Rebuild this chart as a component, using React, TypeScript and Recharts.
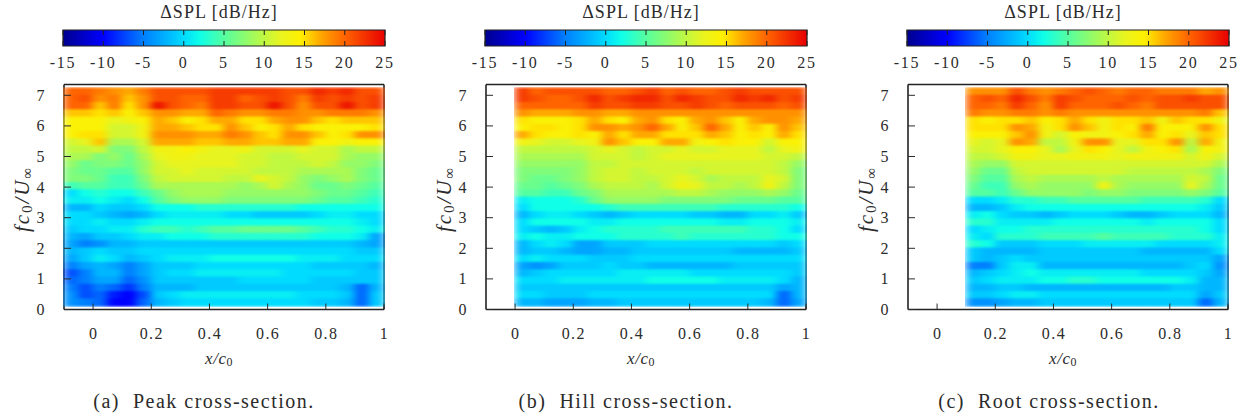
import { ScatterChart, Scatter, XAxis, YAxis, ReferenceArea } from "recharts";

const FONT = '"Liberation Serif", serif';
const INK = "#2b2b2b";

const xTicks = [0, 0.2, 0.4, 0.6, 0.8, 1];
const yTicks = [0, 1, 2, 3, 4, 5, 6, 7];
const colorTicks = [-15, -10, -5, 0, 5, 10, 15, 20, 25];

// level (dB/Hz) -> colour
const palette: [number, string][] = [
  [-15, "#00008f"], [-10, "#0000ff"], [-5, "#0080ff"], [0, "#00dcff"], [2, "#10ffe8"],
  [5, "#55ffa0"], [10, "#c0f840"], [12, "#e8f420"], [14.5, "#fff000"], [17, "#ffa800"], [20, "#ff6400"], [25, "#e80000"],
];

// rows run from the top of the plot (f = 7.24) down to f = 0.11, columns every 0.05 x/c0
const peakRows = [
  [20,20,19,18,17,19,21,21,21,21,22,22,22,22,22,21,21,23,22,23,21,21],
  [20,21,18,19,16,18,21,21,20,20,22,22,20,21,22,21,19,22,21,22,21,22],
  [20,20,16,19,15,18,24,21,20,19,22,22,21,21,24,21,18,21,21,24,21,22],
  [16,16,15,16,14,16,18,18,17,17,20,19,18,18,19,19,18,18,19,19,19,18],
  [14,14,14,12,13,14,17,16,14,15,17,17,15,15,17,18,18,16,15,16,16,16],
  [14,14,14,11,11,13,17,17,16,15,15,18,16,14,15,17,15,14,14,14,14,15],
  [14,15,15,11,11,13,18,18,18,17,17,19,18,16,15,18,18,16,14,15,18,18],
  [11,12,16,9,9,11,17,17,17,16,16,17,17,16,16,17,17,14,14,13,14,14],
  [10,10,11,7,7,10,13,13,14,13,12,12,13,11,11,11,12,11,11,9,10,10],
  [9,9,7,8,6,9,12,13,13,12,12,12,11,11,10,10,11,11,11,9,8,8],
  [8,6,7,7,6,8,11,12,12,12,12,12,11,11,10,10,10,11,10,8,8,7],
  [7,6,6,5,5,8,11,11,12,11,11,11,11,10,10,10,9,9,9,9,7,6],
  [7,7,6,4,4,7,10,11,11,11,11,10,10,12,11,10,8,7,8,9,7,6],
  [4,5,5,4,4,6,9,9,9,9,9,9,8,9,11,9,8,6,6,7,6,5],
  [0,2,3,2,2,4,6,8,9,9,9,8,8,8,8,8,8,7,6,6,5,4],
  [1,1,2,1,0,2,5,7,8,8,8,7,7,7,7,7,7,6,5,5,4,3],
  [-2,-2,0,-1,-1,0,2,2,2,3,3,3,3,3,3,3,2,2,2,2,2,2],
  [0,0,-1,-2,-3,-2,0,1,1,1,1,0,0,-1,-1,-1,-1,0,1,1,0,0],
  [0,0,1,0,0,1,2,2,2,2,2,2,2,2,2,2,2,2,2,2,1,0],
  [-1,0,0,1,1,3,4,4,3,4,5,5,6,6,6,6,5,4,3,3,2,1],
  [-2,-3,-1,-1,0,1,1,2,2,2,3,3,3,3,3,3,3,2,2,2,1,-3],
  [-3,-5,-4,-2,-2,-1,-1,-1,-1,-1,-1,-1,-1,-1,-1,-1,-1,-1,-1,-1,-2,-3],
  [-2,-1,0,-1,-1,0,0,0,0,0,0,0,0,0,0,0,0,0,0,0,-1,-1],
  [-3,-1,1,0,-2,-1,0,1,1,1,2,2,2,2,2,2,1,1,1,0,0,0],
  [-5,-3,-2,-3,-5,-3,-1,-1,-1,0,0,0,0,0,0,0,0,-1,-1,-1,-1,-2],
  [-7,-5,-2,-2,-5,-3,-1,0,0,1,1,1,1,1,1,0,0,0,0,0,-1,-1],
  [-6,-5,-3,-3,-6,-4,-1,-1,-1,-1,-1,-1,0,0,0,0,0,-1,-1,-1,-1,-1],
  [-5,-7,-5,-6,-8,-5,-2,-2,-2,-1,-1,-1,-1,-1,-1,-1,-1,-1,-1,-2,-6,-2],
  [-4,-7,-6,-9,-10,-7,-1,0,1,1,1,1,1,1,1,1,0,0,0,-1,-6,-1],
  [-4,-5,-6,-10,-10,-6,-2,-1,0,0,0,0,0,0,0,0,0,-1,-1,-2,-6,-1],
];

const hillRows = [
  [22,20,21,21,21,21,20,20,21,22,20,21,20,20,21,22,21,21,21,21],
  [22,21,20,20,21,23,21,22,23,23,21,23,22,21,21,23,22,23,21,22],
  [20,20,20,20,20,22,21,21,22,22,21,21,22,21,20,21,21,21,20,21],
  [18,17,17,17,18,18,17,17,18,18,18,18,18,18,18,18,18,18,18,18],
  [15,14,14,14,15,17,15,14,17,18,15,14,17,18,16,14,17,18,18,17],
  [14,15,15,14,15,18,18,17,18,20,17,14,16,20,17,14,16,14,18,16],
  [17,15,14,14,15,14,17,15,17,17,15,15,15,17,16,14,15,14,17,15],
  [13,12,11,11,12,13,18,16,14,14,17,17,13,14,15,14,14,11,14,14],
  [10,10,10,10,10,11,12,11,10,11,11,12,11,11,12,12,12,10,12,13],
  [9,9,9,9,9,11,11,11,10,11,12,12,12,12,12,12,12,11,11,10],
  [8,8,8,8,8,10,10,11,11,11,11,11,11,11,11,11,11,11,10,8],
  [7,7,7,7,8,10,11,11,10,11,11,11,10,11,11,11,11,11,10,7],
  [7,6,6,7,8,10,11,11,10,10,11,12,11,9,10,10,10,12,11,7],
  [6,6,5,6,7,9,10,10,10,9,11,13,12,10,10,9,10,13,10,7],
  [5,5,4,4,6,7,9,9,9,9,9,10,10,9,8,8,8,9,8,6],
  [1,2,2,2,3,6,8,8,8,8,7,7,7,7,7,6,6,6,5,5],
  [0,2,2,2,2,2,3,4,4,4,4,4,4,4,3,3,3,3,3,2],
  [-2,0,1,1,0,-1,-2,-1,0,0,0,0,-1,-1,-2,-2,0,0,1,-1],
  [0,2,2,2,2,1,1,2,2,2,2,2,2,2,1,1,2,2,2,1],
  [0,-1,-2,-1,1,2,3,3,3,3,4,4,4,4,4,4,3,3,2,0],
  [1,2,1,1,2,2,2,3,3,3,3,4,3,3,3,3,3,3,2,2],
  [-2,0,1,0,-3,-3,-1,-1,-1,0,0,0,0,0,0,0,0,0,-1,0],
  [-2,-1,-1,-2,-3,-3,-2,-2,-1,-1,-1,-1,-1,-1,-1,-2,-2,-2,-2,-1],
  [0,1,0,0,0,-1,-1,-1,0,0,0,0,0,0,0,0,0,0,0,0],
  [-3,-4,-3,-1,-1,-1,0,-1,-1,-2,-2,-2,-2,-2,-2,-1,-1,-1,-1,-1],
  [-2,-1,0,0,0,0,0,1,1,1,1,1,0,0,0,0,0,0,0,-1],
  [0,0,0,1,1,1,1,1,1,2,2,2,2,2,1,1,1,1,0,-2],
  [-1,-1,-1,-1,-1,-1,-1,-1,-1,-1,-1,-1,-1,-1,-1,-1,-1,-1,-3,-2],
  [0,0,-1,-1,-1,0,0,0,0,0,0,0,0,0,0,0,0,0,-6,-2],
  [-2,-2,-3,-3,-3,-2,-2,-1,-1,-1,-1,-1,-1,-1,-1,-1,-1,-2,-6,-3],
];

const rootRows = [
  [18,18,18,21,19,18,19,20,21,20,19,20,20,19,19,19,17,18],
  [20,21,20,23,21,19,22,21,20,20,20,21,20,21,21,22,21,21],
  [20,20,19,22,20,18,22,20,20,20,21,20,19,21,21,21,21,21],
  [19,18,18,19,19,18,19,18,18,18,18,18,18,18,18,18,19,16],
  [15,14,15,15,16,14,15,17,15,13,15,15,16,13,16,15,15,13],
  [15,15,15,18,17,13,15,18,16,13,15,14,19,14,14,14,18,15],
  [14,14,14,16,18,13,11,14,13,13,14,15,17,14,15,12,16,15],
  [12,11,12,18,17,10,10,13,18,18,12,12,15,15,18,10,17,13],
  [11,11,12,14,14,12,9,12,15,14,12,10,13,14,15,9,14,13],
  [10,10,11,13,13,12,12,13,13,13,12,13,13,13,13,11,13,11],
  [9,8,8,11,11,11,11,11,11,11,11,11,11,11,11,11,11,9],
  [8,6,6,10,11,11,11,11,11,11,11,10,10,10,10,10,9,7],
  [7,5,5,9,10,9,9,9,9,10,9,9,9,9,9,11,10,6],
  [6,4,4,8,9,8,8,8,8,13,9,8,8,8,8,12,9,6],
  [5,5,4,6,8,8,8,8,7,8,8,7,7,7,7,8,7,5],
  [0,0,1,3,3,4,4,5,5,5,5,5,4,4,4,4,3,0],
  [-2,-2,-1,1,2,2,2,2,2,2,2,2,2,2,2,2,1,-1],
  [1,2,0,-1,-1,-2,-1,0,0,0,-1,-2,-2,-1,0,0,0,-2],
  [3,3,1,1,1,1,2,2,2,2,2,2,1,2,2,2,2,0],
  [0,1,2,2,3,3,3,3,3,3,3,3,3,3,3,3,2,0],
  [1,0,3,3,3,4,4,4,4,5,4,4,4,4,3,3,3,1],
  [3,2,-1,-1,-1,0,0,0,1,1,1,1,1,0,0,0,0,1],
  [-1,-2,-2,-2,-2,-1,-1,-1,-1,-1,-1,-1,-2,-2,-2,-2,-2,0],
  [-1,-2,-1,0,-1,-1,-1,-1,-1,-1,-1,-1,-1,-1,-1,-1,-1,-3],
  [-5,-5,-1,1,1,-2,-2,-2,-2,-2,-2,-2,-2,-2,-2,-1,0,-4],
  [-2,-1,0,1,2,1,1,1,1,1,1,1,0,0,0,0,-1,-3],
  [-1,0,1,1,1,2,2,3,3,2,2,2,2,2,2,1,-2,-2],
  [-2,-2,-1,-1,-2,-2,-2,-2,-2,-2,-2,-2,-2,-2,-1,-1,-2,-2],
  [-1,-1,0,1,1,0,0,0,0,0,0,0,0,0,0,0,-3,-1],
  [-4,-4,-3,-2,-2,-1,-1,-1,-1,-1,-1,-1,-1,-1,-1,-1,-6,-2],
];

const PLOT_W = 320;
const PLOT_H = 225;
const X_MIN = -0.1;
const X_MAX = 1;
const Y_MAX = 7.353;
const F_TOP = 7.24;
const F_BOTTOM = 0.11;
const X_STEP = 0.05;
const AXIS_PAD = 20; // room the axes take inside the chart margins

function hex(c: string) {
  return [1, 3, 5].map((i) => parseInt(c.slice(i, i + 2), 16));
}

function levelColor(v: number) {
  for (let i = 1; i < palette.length; i++) {
    if (v <= palette[i][0]) {
      const [a, ca] = palette[i - 1];
      const [b, cb] = palette[i];
      const t = Math.max(0, (v - a) / (b - a));
      const A = hex(ca);
      const B = hex(cb);
      return `rgb(${A.map((n, k) => Math.round(n + (B[k] - n) * t)).join(",")})`;
    }
  }
  return palette[palette.length - 1][1];
}

function toPoints(rows: number[][], xStart: number) {
  const step = (F_TOP - F_BOTTOM) / rows.length;
  return rows.flatMap((row, i) =>
    row.map((v, j) => ({
      x: xStart + X_STEP * (j + 0.5),
      y: F_TOP - step * (i + 0.5),
      v,
    }))
  );
}

function HeatCell(props: any) {
  const w = (PLOT_W * X_STEP) / (X_MAX - X_MIN);
  const h = (PLOT_H * ((F_TOP - F_BOTTOM) / 30)) / Y_MAX;
  return (
    <rect
      x={props.cx - w / 2 - 0.5}
      y={props.cy - h / 2 - 0.5}
      width={w + 1}
      height={h + 1}
      fill={levelColor(props.payload.v)}
    />
  );
}

const numStyle = { fontFamily: FONT, fontSize: 16, fill: INK, letterSpacing: 1.4 };

function BottomTick({ x, y, payload }: any) {
  return (
    <g>
      <line x1={x} x2={x} y1={y} y2={y - 6} stroke={INK} strokeWidth={1} />
      <text x={x + 0.5} y={y + 24} textAnchor="middle" dominantBaseline="central" {...numStyle}>
        {payload.value}
      </text>
    </g>
  );
}

function TopTick({ x, y }: any) {
  return <line x1={x} x2={x} y1={y} y2={y + 6} stroke={INK} strokeWidth={1} />;
}

function LeftTick({ x, y, payload }: any) {
  return (
    <g>
      <line x1={x} x2={x + 7} y1={y} y2={y} stroke={INK} strokeWidth={1} />
      <text x={x - 18} y={y} textAnchor="end" dominantBaseline="central" {...numStyle}>
        {payload.value}
      </text>
    </g>
  );
}

function RightTick({ x, y }: any) {
  return <line x1={x} x2={x - 7} y1={y} y2={y} stroke={INK} strokeWidth={1} />;
}

function ColorTick({ x, y, payload }: any) {
  const label = payload.value < 0 ? `-${Math.abs(payload.value)}` : `${payload.value}`;
  return (
    <g>
      <line x1={x} x2={x} y1={y} y2={y - 5} stroke="#222" strokeWidth={1} />
      <line x1={x} x2={x} y1={y - 16} y2={y - 11} stroke="#222" strokeWidth={1} />
      <text x={x} y={y + 16} textAnchor="middle" dominantBaseline="central" {...numStyle} letterSpacing={1.8}>
        {label}
      </text>
    </g>
  );
}

function HeatPanel({ left, rows, xStart }: { left: number; rows: number[][]; xStart: number }) {
  const axisProps = { height: AXIS_PAD, tickSize: 0, tickMargin: 0, interval: 0 as const, type: "number" as const };
  const yProps = { type: "number" as const, width: AXIS_PAD, tickSize: 0, tickMargin: 0, interval: 0 as const };
  const frame = { stroke: "#222", strokeWidth: 1.6 };
  return (
    <div className="heat" style={{ position: "absolute", left: left - 64, top: 0 }}>
      <ScatterChart
        width={PLOT_W + 104}
        height={360}
        margin={{
          left: 64 - AXIS_PAD,
          right: 40 - AXIS_PAD,
          top: 84.5 - AXIS_PAD,
          bottom: 360 - 84.5 - PLOT_H - AXIS_PAD,
        }}
      >
        <Scatter data={toPoints(rows, xStart)} dataKey="y" shape={HeatCell} isAnimationActive={false} />
        <XAxis dataKey="x" domain={[X_MIN, X_MAX]} ticks={xTicks} tick={BottomTick} axisLine={frame} tickLine={false} {...axisProps} />
        <XAxis xAxisId="top" orientation="top" dataKey="x" domain={[X_MIN, X_MAX]} ticks={xTicks} tick={TopTick} axisLine={frame} tickLine={false} {...axisProps} />
        <YAxis dataKey="y" domain={[0, Y_MAX]} ticks={yTicks} tick={LeftTick} axisLine={frame} tickLine={false} {...yProps} />
        <YAxis yAxisId="right" orientation="right" dataKey="y" domain={[0, Y_MAX]} ticks={yTicks} tick={RightTick} axisLine={frame} tickLine={false} {...yProps} />
      </ScatterChart>
    </div>
  );
}

const NoMark = () => null;

function ColorBar({ left, id }: { left: number; id: string }) {
  const min = palette[0][0];
  const max = palette[palette.length - 1][0];
  const ends = [{ x: min, y: 0 }, { x: max, y: 1 }];
  return (
    <div style={{ position: "absolute", left: left - 30, top: 0 }}>
      <ScatterChart width={382} height={80} margin={{ left: 30, right: 30, top: 30, bottom: 34 - AXIS_PAD }}>
        <defs>
          <linearGradient id={id} x1="0" x2="1" y1="0" y2="0">
            {palette.map(([v, c]) => (
              <stop key={v} offset={(v - min) / (max - min)} stopColor={c} />
            ))}
          </linearGradient>
        </defs>
        <ReferenceArea x1={min} x2={max} y1={0} y2={1} fill={`url(#${id})`} fillOpacity={1} stroke="#222" strokeWidth={1.2} ifOverflow="visible" />
        <Scatter data={ends} dataKey="y" shape={NoMark} isAnimationActive={false} />
        <XAxis type="number" dataKey="x" domain={[min, max]} ticks={colorTicks} height={AXIS_PAD} tick={ColorTick} tickLine={false} axisLine={false} tickSize={0} tickMargin={0} interval={0} />
        <YAxis type="number" dataKey="y" domain={[0, 1]} hide />
      </ScatterChart>
    </div>
  );
}

function Centered({ x, y, size, spacing, children, rotate }: any) {
  return (
    <div
      style={{
        position: "absolute",
        left: x,
        top: y,
        transform: `translate(-50%, -50%)${rotate ? " rotate(-90deg)" : ""}`,
        fontFamily: FONT,
        fontSize: size,
        letterSpacing: spacing,
        color: INK,
        whiteSpace: "pre",
        lineHeight: 1,
      }}
    >
      {children}
    </div>
  );
}

const subStyle = { fontSize: "0.7em", fontStyle: "normal", verticalAlign: "-0.25em", lineHeight: 0 };

const panels = [
  { left: 63.7, rows: peakRows, xStart: -0.1, bar: 63, id: "jetA", caption: "(a)  Peak cross-section.", captionX: 204 },
  { left: 485.7, rows: hillRows, xStart: 0, bar: 485, id: "jetB", caption: "(b)  Hill cross-section.", captionX: 626 },
  { left: 907.7, rows: rootRows, xStart: 0.1, bar: 907, id: "jetC", caption: "(c)  Root cross-section.", captionX: 1049 },
];

export default function App() {
  return (
    <div style={{ position: "absolute", left: 0, top: 0, width: 1251, height: 418, background: "#fff", overflow: "hidden" }}>
      <style>{`.heat .recharts-scatter { filter: url(#heatBlur); }`}</style>
      <svg width={0} height={0} style={{ position: "absolute" }}>
        <filter id="heatBlur" x="0" y="0" width="1" height="1" colorInterpolationFilters="sRGB">
          <feGaussianBlur stdDeviation="4 1.2" edgeMode="duplicate" />
        </filter>
      </svg>
      {panels.map((p) => (
        <div key={p.id}>
          <ColorBar left={p.bar} id={p.id} />
          <HeatPanel left={p.left} rows={p.rows} xStart={p.xStart} />
          <Centered x={p.bar + 156} y={12} size={18} spacing={1}>ΔSPL [dB/Hz]</Centered>
          <Centered x={p.left - 42} y={199} size={21} spacing={2} rotate>
            <i>fc<span style={subStyle}>0</span>/U<span style={subStyle}>∞</span></i>
          </Centered>
          <Centered x={p.bar + 156} y={358} size={17} spacing={0.5}>
            <i>x/c<span style={subStyle}>0</span></i>
          </Centered>
          <Centered x={p.captionX} y={401} size={20} spacing={1.5}>
            {p.caption}
          </Centered>
        </div>
      ))}
    </div>
  );
}
